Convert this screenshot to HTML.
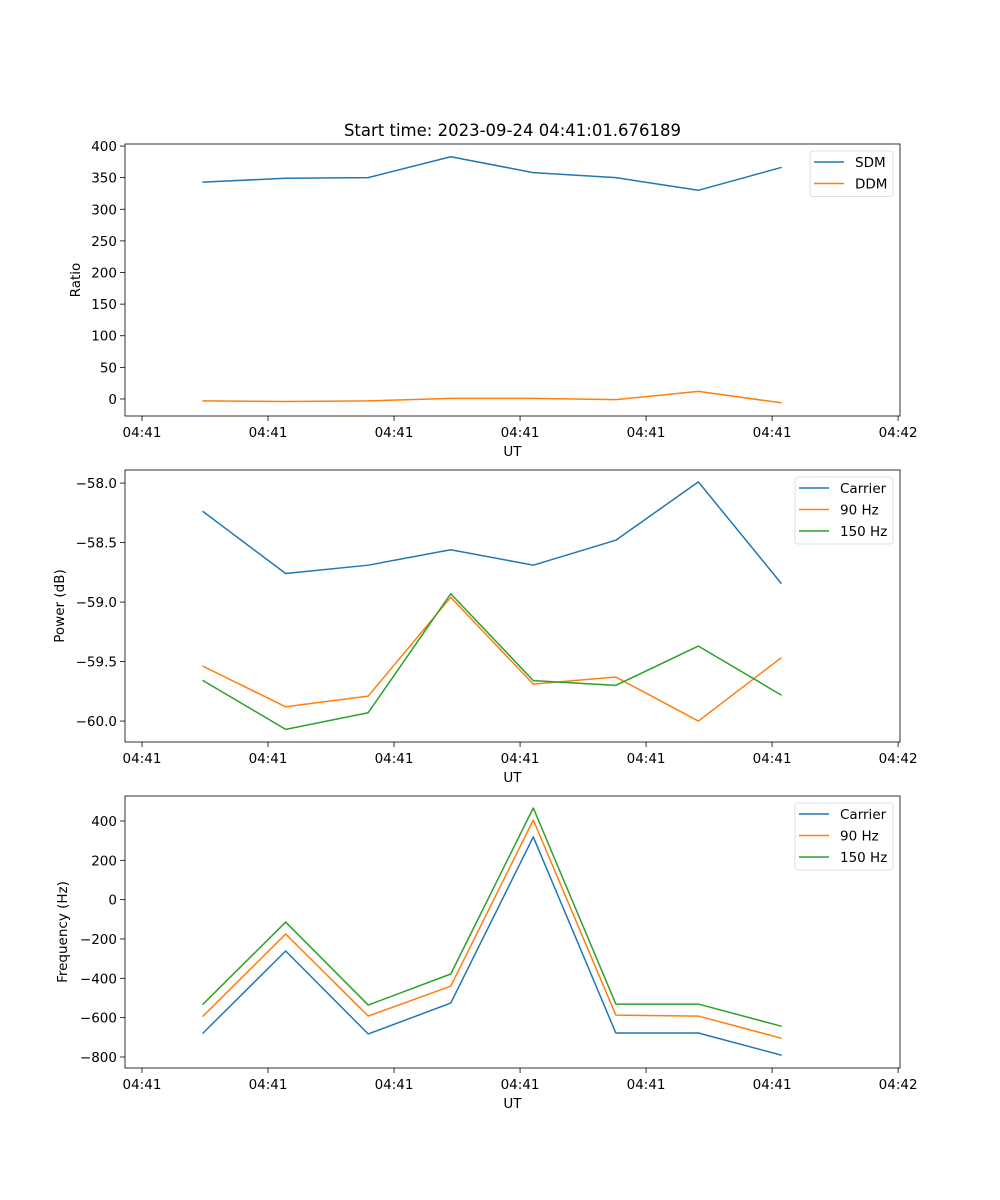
<!DOCTYPE html>
<html><head><meta charset="utf-8"><style>
html,body{margin:0;padding:0;background:#fff}
svg{display:block;font-family:"DejaVu Sans","Liberation Sans",sans-serif}
</style></head><body>
<svg id="fig" width="1000" height="1200" viewBox="0 0 1000 1200" xmlns="http://www.w3.org/2000/svg">
<rect width="1000" height="1200" fill="#fff"/>
<text x="512.5" y="136" font-size="16.5" text-anchor="middle" fill="#000">Start time: 2023-09-24 04:41:01.676189</text>
</svg>
<script>
// shared time axis (seconds since first tick)
const times = [0.97, 2.28, 3.59, 4.90, 6.21, 7.52, 8.83, 10.14];
const xTickVals = [0, 2, 4, 6, 8, 10, 12];
const xTickLabels = ["04:41","04:41","04:41","04:41","04:41","04:41","04:42"];
// panel 1
const ratioTicks = [0, 50, 100, 150, 200, 250, 300, 350, 400];
const sdm = [343, 349, 350, 383, 358, 350, 330, 366];
const ddm = [-3, -4, -3, 1, 1, -1, 12, -6];
// panel 2
const powerTicks = [-60.0, -59.5, -59.0, -58.5, -58.0];
const powerTickLabels = ["\u221260.0","\u221259.5","\u221259.0","\u221258.5","\u221258.0"];
const powCarrier = [-58.24, -58.76, -58.69, -58.56, -58.69, -58.48, -57.99, -58.84];
const pow90 = [-59.54, -59.88, -59.79, -58.96, -59.69, -59.63, -60.0, -59.47];
const pow150 = [-59.66, -60.07, -59.93, -58.93, -59.66, -59.70, -59.37, -59.78];
// panel 3
const freqTicks = [-800, -600, -400, -200, 0, 200, 400];
const freqTickLabels = ["\u2212800","\u2212600","\u2212400","\u2212200","0","200","400"];
const freqCarrier = [-678, -261, -683, -526, 319, -678, -678, -790];
const freq90 = [-592, -175, -592, -440, 405, -587, -592, -704];
const freq150 = [-531, -114, -536, -378, 466, -531, -531, -643];

const NS = "http://www.w3.org/2000/svg";
const svg = document.getElementById("fig");
const C = {blue:"#1f77b4", orange:"#ff7f0e", green:"#2ca02c"};
function el(tag, attrs, parent){const e=document.createElementNS(NS,tag);for(const k in attrs)e.setAttribute(k,attrs[k]);(parent||svg).appendChild(e);return e;}

const L=125, R=900;
const xMin=-0.27, xMax=12.03;
function xs(t){return L+(t-xMin)/(xMax-xMin)*(R-L);}

function panel(p){
  const g=el("g",{});
  
  
  const ys=v=>p.bot-(v-p.ymin)/(p.ymax-p.ymin)*(p.bot-p.top);
  // series
  p.series.forEach(s=>{
    const pts=s.data.map((v,i)=>xs(times[i]).toFixed(2)+","+ys(v).toFixed(2)).join(" ");
    const pl=el("polyline",{points:pts,fill:"none",stroke:s.color,"stroke-width":1.5,"stroke-linejoin":"round","stroke-linecap":"square"},g);
    
    
  });
  // frame
  const fr=el("rect",{x:L,y:p.top,width:R-L,height:p.bot-p.top,fill:"none",stroke:"#000","stroke-width":0.8},g);
  
  
  // x ticks
  xTickVals.forEach((t,i)=>{
    const x=xs(t);
    el("line",{x1:x,x2:x,y1:p.bot,y2:p.bot+5,stroke:"#000","stroke-width":0.8},g);
    const tx=el("text",{x:x,y:p.bot+21,"font-size":13.5,"text-anchor":"middle"},g);
    tx.textContent=xTickLabels[i];
    
    
  });
  const xl=el("text",{x:(L+R)/2,y:p.bot+40,"font-size":13.5,"text-anchor":"middle"},g);
  xl.textContent="UT";
  
  
  // y ticks
  p.ticks.forEach((v,i)=>{
    const y=ys(v);
    el("line",{x1:L-5,x2:L,y1:y,y2:y,stroke:"#000","stroke-width":0.8},g);
    const ty=el("text",{x:L-8,y:y+5,"font-size":13.5,"text-anchor":"end"},g);
    ty.textContent=p.labels[i];
    
    
  });
  const yc=(p.top+p.bot)/2;
  const yl=el("text",{x:p.ylx,y:yc,"font-size":13.5,"text-anchor":"middle",transform:"rotate(-90 "+p.ylx+" "+yc+")"},g);
  yl.textContent=p.ylabel;
  
  
  // legend
  const lg=el("g",{},g);
  
  
  const n=p.series.length, lh=21.5;
  el("rect",{x:p.lx,y:p.top+7,width:R-7-p.lx,height:n*lh+2.5,rx:3,fill:"#fff","fill-opacity":0.8,stroke:"#d6d6d6","stroke-width":0.8},lg);
  p.series.forEach((s,i)=>{
    const y=p.top+18+i*lh;
    const le=el("g",{},lg);
    
    
    el("line",{x1:p.lx+4,x2:p.lx+34,y1:y,y2:y,stroke:s.color,"stroke-width":1.5},le);
    const t=el("text",{x:p.lx+45,y:y+5,"font-size":13.5},le);
    t.textContent=s.label;
  });
}

panel({name:"ratio-panel",top:144,bot:416,ymin:-26.9,ymax:403.2,ticks:ratioTicks,labels:ratioTicks.map(String),ylabel:"Ratio",ylx:80,lx:810,
  series:[{id:"sdm-line",label:"SDM",data:sdm,color:C.blue},{id:"ddm-line",label:"DDM",data:ddm,color:C.orange}]});
panel({name:"power-panel",top:470,bot:742,ymin:-60.176,ymax:-57.89,ticks:powerTicks,labels:powerTickLabels,ylabel:"Power (dB)",ylx:64,lx:795,
  series:[{id:"power-carrier-line",label:"Carrier",data:powCarrier,color:C.blue},{id:"power-90hz-line",label:"90 Hz",data:pow90,color:C.orange},{id:"power-150hz-line",label:"150 Hz",data:pow150,color:C.green}]});
panel({name:"frequency-panel",top:796,bot:1068,ymin:-856,ymax:527,ticks:freqTicks,labels:freqTickLabels,ylabel:"Frequency (Hz)",ylx:67,lx:795,
  series:[{id:"freq-carrier-line",label:"Carrier",data:freqCarrier,color:C.blue},{id:"freq-90hz-line",label:"90 Hz",data:freq90,color:C.orange},{id:"freq-150hz-line",label:"150 Hz",data:freq150,color:C.green}]});
</script>
</body></html>
